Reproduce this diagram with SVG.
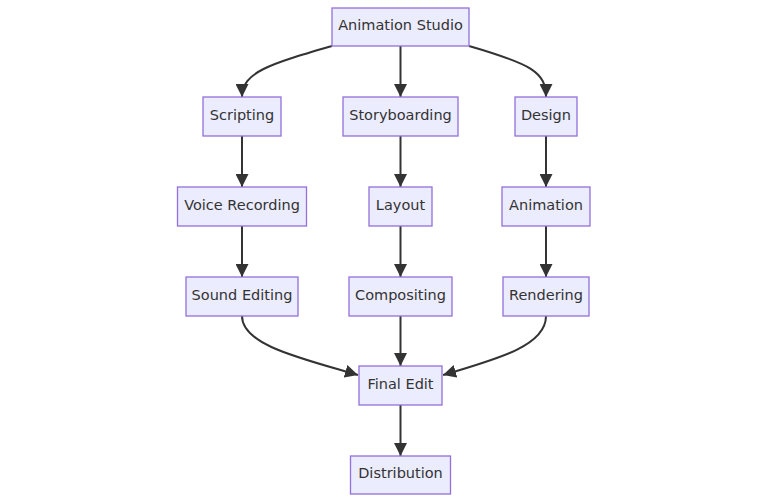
<svg xmlns="http://www.w3.org/2000/svg" width="768" height="503" viewBox="0 0 768 503">
<defs>
<marker id="arr" viewBox="0 0 10 10" refX="10" refY="5" markerWidth="13" markerHeight="13" markerUnits="userSpaceOnUse" orient="auto">
<path d="M0,0 L10,5 L0,10 z" fill="#333"/>
</marker>
<style>
.n rect{fill:#ECECFF;stroke:#9370DB;stroke-width:1.3}
.n text{font-family:"DejaVu Sans",sans-serif;font-size:14.5px;fill:#333;text-anchor:middle;dominant-baseline:central}
.e path{fill:none;stroke:#333;stroke-width:2;marker-end:url(#arr)}
</style>
</defs>
<rect width="768" height="503" fill="#fff"/>
<g class="e" id="edges">
<path d="M332,46 C270,64 242,72 242,97"/>
<path d="M400.5,46 L400.5,97"/>
<path d="M469,46 C531,64 546,72 546,97"/>
<path d="M242,136 L242,187"/>
<path d="M400.5,136 L400.5,187"/>
<path d="M546,136 L546,187"/>
<path d="M242,226 L242,277"/>
<path d="M400.5,226 L400.5,277"/>
<path d="M546,226 L546,277"/>
<path d="M242,316 C242,345 300,358 358,375"/>
<path d="M400.5,316 L400.5,366"/>
<path d="M546,316 C546,345 501,358 443,375"/>
<path d="M400.5,405 L400.5,456"/>
</g>
<g class="n" id="studio"><rect x="332" y="8" width="137" height="38"/><text x="400.5" y="25">Animation Studio</text></g>
<g class="n" id="scripting"><rect x="203" y="97" width="78" height="39"/><text x="242" y="115">Scripting</text></g>
<g class="n" id="storyboarding"><rect x="343" y="97" width="115" height="39"/><text x="400.5" y="115">Storyboarding</text></g>
<g class="n" id="design"><rect x="515" y="97" width="62" height="39"/><text x="546" y="115">Design</text></g>
<g class="n" id="voice"><rect x="177.5" y="187" width="129" height="39"/><text x="242" y="204.5">Voice Recording</text></g>
<g class="n" id="layout"><rect x="369" y="187" width="63" height="39"/><text x="400.5" y="204.5">Layout</text></g>
<g class="n" id="animation"><rect x="502" y="187" width="88" height="39"/><text x="546" y="204.5">Animation</text></g>
<g class="n" id="sound"><rect x="186" y="277" width="112" height="39"/><text x="242" y="294.5">Sound Editing</text></g>
<g class="n" id="compositing"><rect x="349" y="277" width="103" height="39"/><text x="400.5" y="294.5">Compositing</text></g>
<g class="n" id="rendering"><rect x="503" y="277" width="86" height="39"/><text x="546" y="294.5">Rendering</text></g>
<g class="n" id="finaledit"><rect x="359" y="366" width="83" height="39"/><text x="400.5" y="383.5">Final Edit</text></g>
<g class="n" id="distribution"><rect x="350.5" y="456" width="100" height="38"/><text x="400.5" y="473">Distribution</text></g>
</svg>
